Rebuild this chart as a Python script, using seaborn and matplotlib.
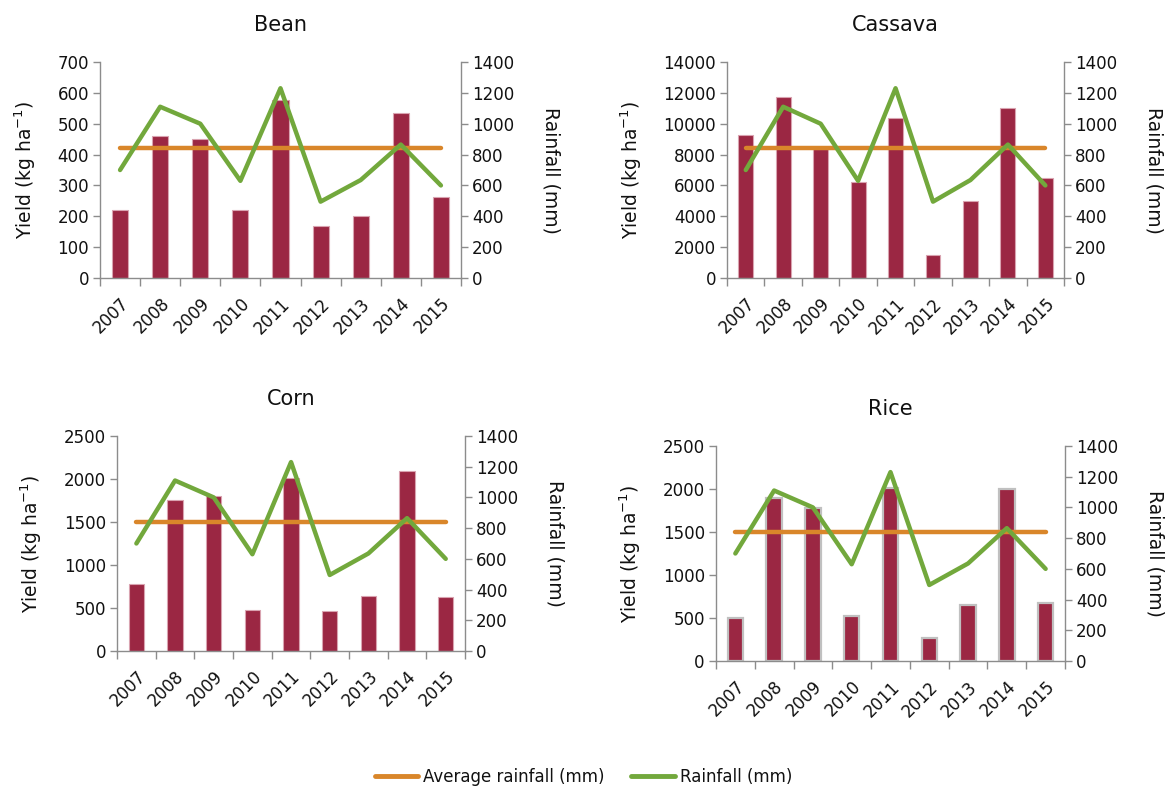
import numpy as np
import pandas as pd
import matplotlib
matplotlib.use("Agg")
import matplotlib.pyplot as plt
import seaborn as sns
from matplotlib.lines import Line2D
from matplotlib.ticker import FixedLocator, NullFormatter

sns.set_theme(style="white")
plt.rcParams['font.family'] = ['DejaVu Sans']
TEXT = "#111111"
plt.rcParams['text.color'] = TEXT
plt.rcParams['axes.labelcolor'] = TEXT
plt.rcParams['xtick.color'] = TEXT
plt.rcParams['ytick.color'] = TEXT

years = ["2007", "2008", "2009", "2010", "2011", "2012", "2013", "2014", "2015"]
rainfall = [700, 1110, 1000, 630, 1230, 495, 635, 865, 600]
avg_rainfall = [840] * len(years)

bean = [221, 460, 450, 222, 577, 168, 202, 535, 264]
cassava = [9300, 11700, 8350, 6200, 10400, 1520, 5000, 11000, 6500]
corn = [779, 1756, 1806, 477, 2016, 461, 640, 2093, 632]
rice = [498, 1892, 1783, 522, 2017, 273, 654, 1998, 674]

crops = ["Bean", "Cassava", "Corn", "Rice"]
yields = [bean, cassava, corn, rice]
ylims = [(0, 700, 100), (0, 14000, 2000), (0, 2500, 500), (0, 2500, 500)]
positions = [
    [0.0857, 0.6472, 0.3093, 0.2741],
    [0.6230, 0.6472, 0.2888, 0.2741],
    [0.1003, 0.1739, 0.2982, 0.2728],
    [0.6135, 0.1612, 0.2991, 0.2728],
]
title_pads = [22, 22, 22, 22]
edgecolors = ["#d9a3b0", "#d9a3b0", "#d9a3b0", "#c0c0c0"]
edgewidths = [0.8, 0.8, 0.8, 1.6]

BAR = "#9b2743"
GREEN = "#72a83c"
ORANGE = "#d9862a"
SPINE = "#8c8c8c"

fig = plt.figure(figsize=(11.67, 7.88), dpi=100)

for i, crop in enumerate(crops):
    ax = fig.add_axes(positions[i])
    df = pd.DataFrame({"year": years, "yield": yields[i],
                       "rain": rainfall, "avg": avg_rainfall})
    sns.barplot(data=df, x="year", y="yield", ax=ax, color=BAR, width=0.4,
                saturation=1, edgecolor=edgecolors[i], linewidth=edgewidths[i])
    lo, hi, step = ylims[i]
    ax.set_ylim(lo, hi)
    ax.set_yticks(np.arange(lo, hi + 1, step))
    ax.set_xlim(-0.5, len(years) - 0.5)
    ax.set_xlabel("")
    ax.set_ylabel("Yield (kg ha$^{-1}$)", fontsize=13.5, labelpad=14)
    ax.set_title(crop, fontsize=15, pad=title_pads[i], color=TEXT)

    ax2 = ax.twinx()
    x = np.arange(len(years))
    sns.lineplot(x=x, y=df["avg"].values, ax=ax2, color=ORANGE, linewidth=3.2)
    sns.lineplot(x=x, y=df["rain"].values, ax=ax2, color=GREEN, linewidth=3.2)
    ax2.set_ylim(0, 1400)
    ax2.set_yticks(np.arange(0, 1401, 200))
    ax2.set_xlim(-0.5, len(years) - 0.5)
    ax2.set_ylabel("Rainfall (mm)", fontsize=13.5, rotation=270, labelpad=33)

    for a in (ax, ax2):
        for s in a.spines.values():
            s.set_color(SPINE)
            s.set_linewidth(1.0)
        a.spines["top"].set_visible(False)
    ax.spines["right"].set_visible(False)
    ax2.spines["left"].set_visible(False)
    ax2.spines["bottom"].set_visible(False)

    ax.tick_params(axis="y", which="major", left=True, length=5, color=SPINE,
                   width=1, labelsize=12, pad=3, labelcolor=TEXT)
    ax2.tick_params(axis="y", which="major", right=True, length=5, color=SPINE,
                    width=1, labelsize=12, pad=3, labelcolor=TEXT)
    ax.set_xticks(x)
    ax.set_xticklabels(years, rotation=45, ha="right", rotation_mode="anchor",
                       fontsize=12)
    ax.tick_params(axis="x", which="major", bottom=False, length=0, pad=12,
                   labelcolor=TEXT)
    ax.xaxis.set_minor_locator(FixedLocator(np.arange(-0.5, len(years), 1.0)))
    ax.xaxis.set_minor_formatter(NullFormatter())
    ax.tick_params(axis="x", which="minor", bottom=True, length=6, color=SPINE, width=1)
    ax.grid(False)
    ax2.grid(False)
    ax.set_zorder(1)
    ax2.set_zorder(2)
    ax2.patch.set_visible(False)

handles = [Line2D([0], [0], color=ORANGE, lw=3.5),
           Line2D([0], [0], color=GREEN, lw=3.5)]
fig.legend(handles, ["Average rainfall (mm)", "Rainfall (mm)"], loc="center",
           bbox_to_anchor=(0.5, 0.014), ncol=2, frameon=False, fontsize=12,
           handlelength=2.6, columnspacing=1.6, handletextpad=0.3)

fig.savefig("out.png", dpi=100)
